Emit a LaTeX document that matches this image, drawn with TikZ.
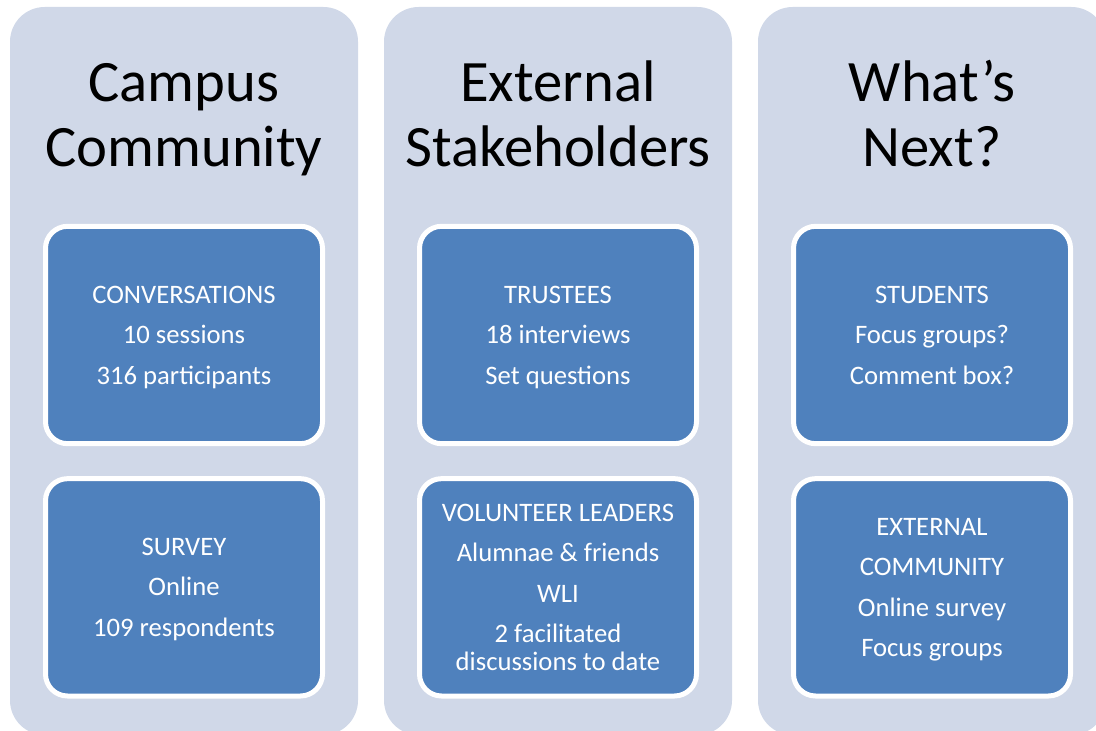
\documentclass[tikz,border=0pt]{standalone}
\usepackage{fontspec}
\setmainfont{Carlito}
\usetikzlibrary{positioning}

% Taller first line, pushes the box text down a little
\newcommand{\boxTop}{\rule{0pt}{19.2pt}}

\begin{document}
\begin{tikzpicture}[x=0.75pt, y=-0.75pt]

    \definecolor{panelColour}{HTML}{D0D8E8}
    \definecolor{boxColour}{HTML}{4F81BD}

    % Define the column step (in px)
    \def\colStep{374}

    \tikzset{
        title/.style={font=\fontsize{44}{49}\selectfont, align=center, text=black, inner sep=0pt},
        infobox/.style={draw=white, fill=boxColour, line width=3.75pt, rounded corners=16.5pt,
            minimum width=207.75pt, minimum height=163pt, inner sep=0pt,
            text=white, align=center, font=\fontsize{20}{21}\selectfont}
    }

    % Fix the page size and cut the panels off at the bottom
    \useasboundingbox (0,0) rectangle (1096,731);
    \clip (0,0) rectangle (1096,731);

    % Draw the background panels
    \foreach \i in {0,1,2}
        \fill[panelColour, rounded corners=26pt] (10+\i*\colStep,7) rectangle (358+\i*\colStep,735);

    % Column titles
    \node[title] (campusTitle) at (184,121.1) {\strut Campus\\Community\strut};
    \node[title] (externalTitle) at (558,121.1) {\strut External\\Stakeholders\strut};
    \node[title] (nextTitle) at (932,121.1) {\strut What’s\\Next?\strut};

    % Top row of boxes
    \node[infobox] (conversations) at (184,335)
        {\boxTop CONVERSATIONS\\[9.4pt]10 sessions\\[9.4pt]316 participants\strut};
    \node[infobox] (trustees) at (558,335)
        {\boxTop TRUSTEES\\[9.4pt]18 interviews\\[9.4pt]Set questions\strut};
    \node[infobox] (students) at (932,335)
        {\boxTop STUDENTS\\[9.4pt]Focus groups?\\[9.4pt]Comment box?\strut};

    % Bottom row of boxes
    \node[infobox, below=22.5pt of conversations] (survey)
        {\boxTop SURVEY\\[9.4pt]Online\\[9.4pt]109 respondents\strut};
    \node[infobox, below=22.5pt of trustees] (volunteers)
        {\boxTop VOLUNTEER LEADERS\\[9.4pt]Alumnae \& friends\\[9.4pt]WLI\\[9.4pt]2 facilitated\\discussions to date\strut};
    \node[infobox, below=22.5pt of students] (externalCommunity)
        {\boxTop EXTERNAL\\[9.4pt]COMMUNITY\\[9.4pt]Online survey\\[9.4pt]Focus groups\strut};

\end{tikzpicture}
\end{document}
